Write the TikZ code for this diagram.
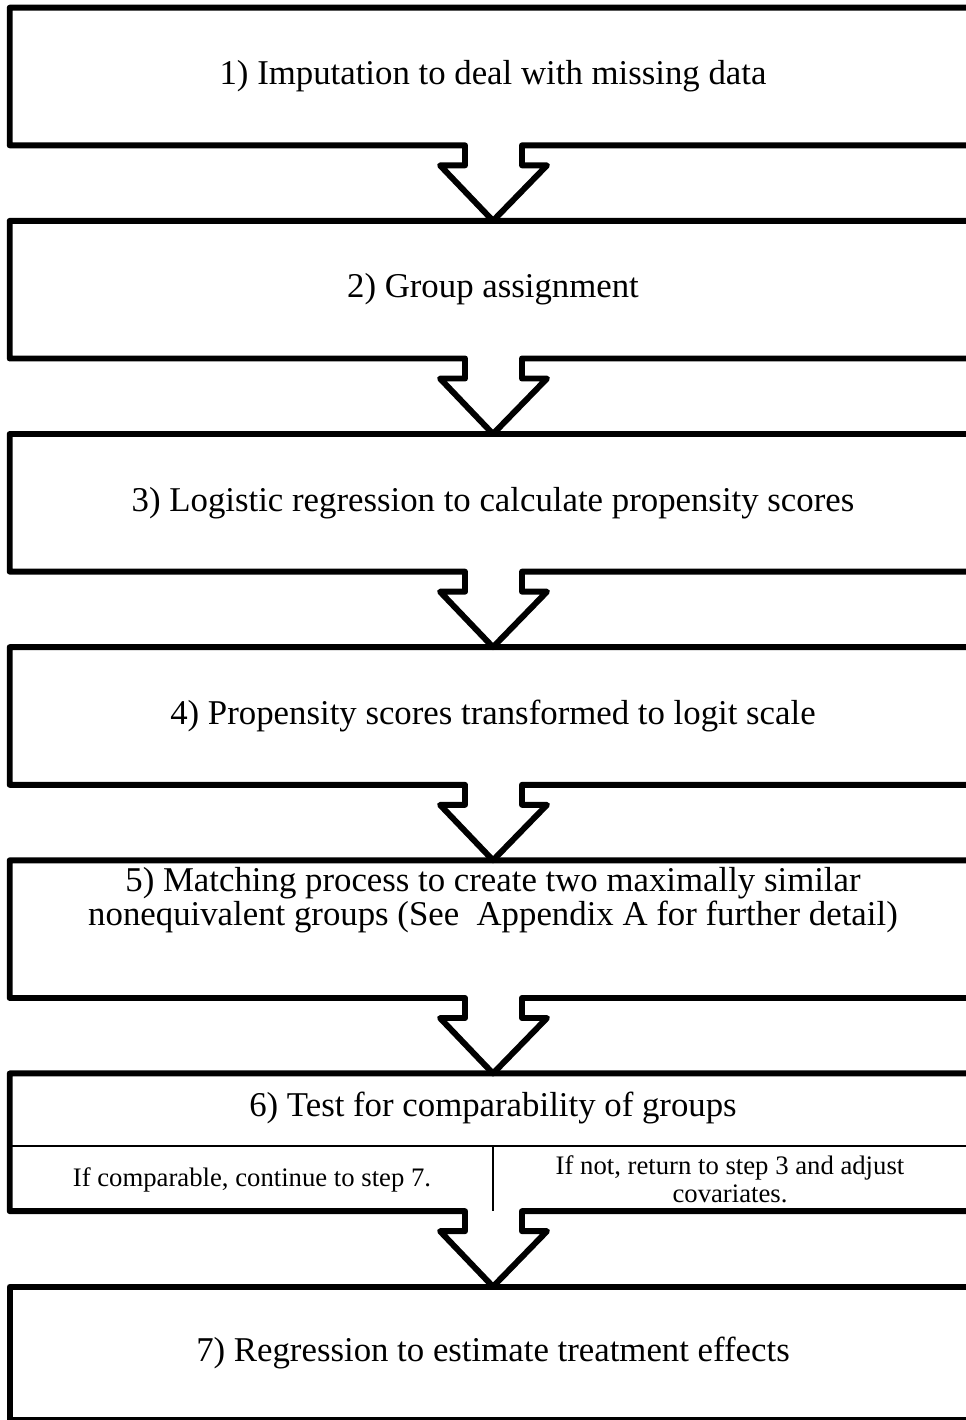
\documentclass[tikz,border=0pt]{standalone}
\usepackage{fontspec}
\setmainfont{Liberation Serif}
\usetikzlibrary{calc,positioning}
% box with a block arrow cut into its bottom edge, pointing at the next box
\newcommand{\StepDown}[2]{%
  \draw[outline] (#1.south west) -- (#1.north west) -- (#1.north east) -- (#1.south east)
    -- ($(#1.south)+(29,0)$) -- ++(0,20) -- ++(25,0) -- (#2.north)
    -- ($(#1.south)+(-53,20)$) -- ++(25,0) -- ++(0,-20) -- cycle;}

\begin{document}
\begin{tikzpicture}[x=0.02cm,y=-0.02cm,node distance=1.51cm,
  stepbox/.style={minimum width=19.32cm,minimum height=2.74cm,inner sep=0pt,
    font=\fontsize{19.8}{19.8}\selectfont,align=center},
  steptext/.style={inner sep=0pt,font=\fontsize{19.8}{19.8}\selectfont,align=center},
  celltext/.style={inner sep=0pt,font=\fontsize{15.2}{15.9}\selectfont,align=center},
  outline/.style={line width=3.4pt,line join=round},
  thinline/.style={line width=1.3pt}]
  \useasboundingbox (0,0) rectangle (966,1420);
  \clip (0,0) rectangle (966,1420);
  % Steps
  \node[stepbox] (s1) at (493,76.5) {1) Imputation to deal with missing data};
  \node[stepbox,below=of s1] (s2) {2) Group assignment};
  \node[stepbox,below=of s2] (s3) {3) Logistic regression to calculate propensity scores};
  \node[stepbox,below=of s3] (s4) {4) Propensity scores transformed to logit scale};
  \node[stepbox,below=of s4] (s5) {};
  \node[steptext] (t5) at ($(s5)+(0,-29)$) {5) Matching process to create two maximally similar\\nonequivalent groups (See~ Appendix A for further detail)};
  \node[stepbox,below=of s5] (s6) {};
  \node[steptext] (t6) at ($(s6)+(0,-34)$) {6) Test for comparability of groups};
  \node[stepbox,below=of s6,minimum height=2.66cm] (s7) {7) Regression to estimate treatment effects};
  % Step 6 split into two outcomes
  \coordinate (d6) at ($(s6)+(0,4)$);
  \draw[thinline] (d6 -| s6.west) -- (d6 -| s6.east);
  \draw[thinline] (d6) -- (d6 |- s6.south);
  \node[celltext] (c6a) at ($(s6)+(-241,38)$) {If comparable, continue to step 7.};
  \node[celltext] (c6b) at ($(s6)+(237,37)$) {If not, return to step 3 and adjust\\covariates.};
  % Outlines and arrows
  \StepDown{s1}{s2}
  \StepDown{s2}{s3}
  \StepDown{s3}{s4}
  \StepDown{s4}{s5}
  \StepDown{s5}{s6}
  \StepDown{s6}{s7}
  \draw[outline] (s7.south west) rectangle (s7.north east);
\end{tikzpicture}
\end{document}
